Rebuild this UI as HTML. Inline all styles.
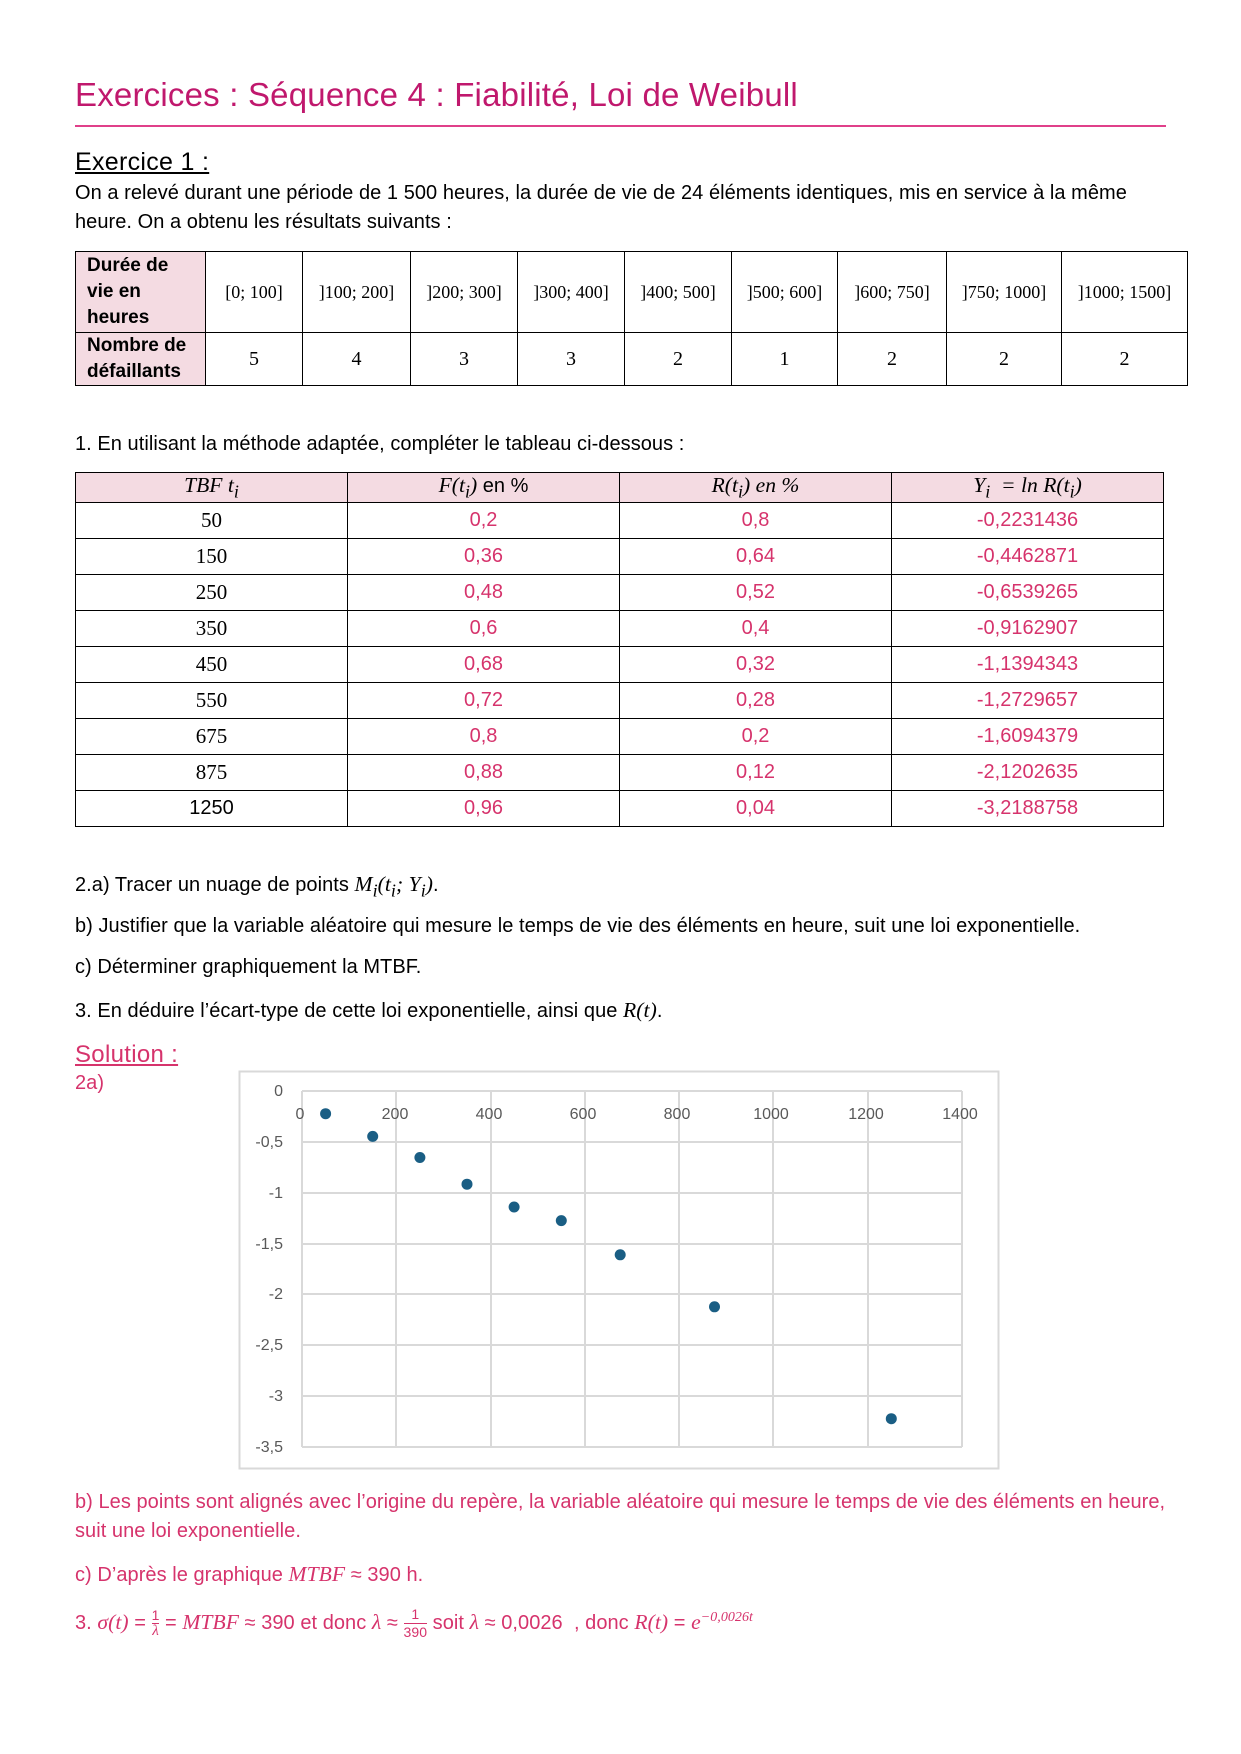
<!DOCTYPE html>
<html><head><meta charset="utf-8"><style>
body{margin:0;width:1241px;height:1754px;background:#fff;position:relative;font-family:"Liberation Sans",sans-serif;color:#000;overflow:hidden}
.a{position:absolute;white-space:nowrap}
.t{font-size:20px;letter-spacing:0.05px}
.p{color:#d6336c}
.m{font-family:"Liberation Serif",serif;font-style:italic;font-size:1.08em}
table{position:absolute;border-collapse:collapse;table-layout:fixed}
td{border:1.5px solid #000;text-align:center;padding:0}
</style></head><body>
<div class="a" style="left:75px;top:76px;font-size:33px;color:#c0186d;letter-spacing:0.2px">Exercices : Séquence 4 : Fiabilité, Loi de Weibull</div>
<div class="a" style="left:75px;top:125px;width:1091px;height:1.5px;background:#e0408a"></div>
<div class="a" style="left:75px;top:148px;font-size:25px;text-decoration:underline;letter-spacing:0.3px">Exercice 1 :</div>
<div class="a t" style="left:75px;top:182px">On a relevé durant une période de 1 500 heures, la durée de vie de 24 éléments identiques, mis en service à la même</div>
<div class="a t" style="left:75px;top:211px">heure. On a obtenu les résultats suivants :</div>

<table style="left:75px;top:251px;width:1113px;height:135px;font-family:'Liberation Serif',serif;font-size:18px">
<colgroup><col style="width:130px"><col style="width:97px"><col style="width:108px"><col style="width:107px"><col style="width:107px"><col style="width:107px"><col style="width:106px"><col style="width:109px"><col style="width:115px"><col></colgroup>
<tr style="height:81px"><td style="background:#f4dbe2;text-align:left;padding-left:11px;font-family:'Liberation Sans',sans-serif;font-weight:bold;font-size:19px;line-height:26px">Durée de<br>vie en<br>heures</td>
<td>[0; 100]</td><td>]100; 200]</td><td>]200; 300]</td><td>]300; 400]</td><td>]400; 500]</td><td>]500; 600]</td><td>]600; 750]</td><td>]750; 1000]</td><td>]1000; 1500]</td></tr>
<tr><td style="background:#f4dbe2;text-align:left;padding-left:11px;font-family:'Liberation Sans',sans-serif;font-weight:bold;font-size:19px;line-height:26px">Nombre de<br>défaillants</td>
<td style="font-size:20px">5</td><td style="font-size:20px">4</td><td style="font-size:20px">3</td><td style="font-size:20px">3</td><td style="font-size:20px">2</td><td style="font-size:20px">1</td><td style="font-size:20px">2</td><td style="font-size:20px">2</td><td style="font-size:20px">2</td></tr>
</table>

<div class="a t" style="left:75px;top:433px">1. En utilisant la méthode adaptée, compléter le tableau ci-dessous :</div>

<table style="left:75px;top:472px;width:1089px;font-size:20px">
<tr style="height:28px;background:#f4dbe2"><td style="width:271px" class="m">TBF t<sub>i</sub></td><td style="width:271px"><span class="m">F(t<sub>i</sub>)</span> en %</td><td style="width:271px" class="m">R(t<sub>i</sub>) en %</td><td class="m">Y<sub>i</sub> &nbsp;= ln R(t<sub>i</sub>)</td></tr>
<tr style="height:36px"><td style="font-family:'Liberation Serif',serif;font-size:21px">50</td><td class="p">0,2</td><td class="p">0,8</td><td class="p">-0,2231436</td></tr>
<tr style="height:36px"><td style="font-family:'Liberation Serif',serif;font-size:21px">150</td><td class="p">0,36</td><td class="p">0,64</td><td class="p">-0,4462871</td></tr>
<tr style="height:36px"><td style="font-family:'Liberation Serif',serif;font-size:21px">250</td><td class="p">0,48</td><td class="p">0,52</td><td class="p">-0,6539265</td></tr>
<tr style="height:36px"><td style="font-family:'Liberation Serif',serif;font-size:21px">350</td><td class="p">0,6</td><td class="p">0,4</td><td class="p">-0,9162907</td></tr>
<tr style="height:36px"><td style="font-family:'Liberation Serif',serif;font-size:21px">450</td><td class="p">0,68</td><td class="p">0,32</td><td class="p">-1,1394343</td></tr>
<tr style="height:36px"><td style="font-family:'Liberation Serif',serif;font-size:21px">550</td><td class="p">0,72</td><td class="p">0,28</td><td class="p">-1,2729657</td></tr>
<tr style="height:36px"><td style="font-family:'Liberation Serif',serif;font-size:21px">675</td><td class="p">0,8</td><td class="p">0,2</td><td class="p">-1,6094379</td></tr>
<tr style="height:36px"><td style="font-family:'Liberation Serif',serif;font-size:21px">875</td><td class="p">0,88</td><td class="p">0,12</td><td class="p">-2,1202635</td></tr>
<tr style="height:36px"><td>1250</td><td class="p">0,96</td><td class="p">0,04</td><td class="p">-3,2188758</td></tr>
</table>

<div class="a t" style="left:75px;top:872px">2.a) Tracer un nuage de points <span class="m">M<sub>i</sub>(t<sub>i</sub>; Y<sub>i</sub>)</span>.</div>
<div class="a t" style="left:75px;top:915px">b) Justifier que la variable aléatoire qui mesure le temps de vie des éléments en heure, suit une loi exponentielle.</div>
<div class="a t" style="left:75px;top:956px">c) Déterminer graphiquement la MTBF.</div>
<div class="a t" style="left:75px;top:998px">3. En déduire l’écart-type de cette loi exponentielle, ainsi que <span class="m">R(t)</span>.</div>

<div class="a p" style="left:75px;top:1041px;font-size:24px;text-decoration:underline;letter-spacing:0.3px">Solution :</div>
<div class="a t p" style="left:75px;top:1072px">2a)</div>

<svg class="a" style="left:0;top:0" width="1241" height="1754">
<rect x="239.5" y="1071.5" width="759" height="397" fill="none" stroke="#d9d9d9" stroke-width="2"/>
<g stroke="#d9d9d9" stroke-width="2">
<line x1="302" y1="1091" x2="962" y2="1091"/><line x1="302" y1="1142" x2="962" y2="1142"/><line x1="302" y1="1193" x2="962" y2="1193"/><line x1="302" y1="1244" x2="962" y2="1244"/><line x1="302" y1="1294" x2="962" y2="1294"/><line x1="302" y1="1345" x2="962" y2="1345"/><line x1="302" y1="1396" x2="962" y2="1396"/><line x1="302" y1="1447" x2="962" y2="1447"/>
<line x1="302" y1="1091" x2="302" y2="1447"/><line x1="396" y1="1091" x2="396" y2="1447"/><line x1="491" y1="1091" x2="491" y2="1447"/><line x1="585" y1="1091" x2="585" y2="1447"/><line x1="679" y1="1091" x2="679" y2="1447"/><line x1="773" y1="1091" x2="773" y2="1447"/><line x1="868" y1="1091" x2="868" y2="1447"/><line x1="962" y1="1091" x2="962" y2="1447"/>
</g>
<g font-family="Liberation Sans, sans-serif" font-size="16" fill="#595959" text-anchor="end">
<text x="283" y="1096">0</text><text x="283" y="1147">-0,5</text><text x="283" y="1198">-1</text><text x="283" y="1249">-1,5</text><text x="283" y="1299">-2</text><text x="283" y="1350">-2,5</text><text x="283" y="1401">-3</text><text x="283" y="1452">-3,5</text>
</g>
<g font-family="Liberation Sans, sans-serif" font-size="16" fill="#595959" text-anchor="middle">
<text x="300" y="1119">0</text><text x="395" y="1119">200</text><text x="489" y="1119">400</text><text x="583" y="1119">600</text><text x="677" y="1119">800</text><text x="771" y="1119">1000</text><text x="866" y="1119">1200</text><text x="960" y="1119">1400</text>
</g>
<g fill="#1a5e84">
<circle cx="325.6" cy="1113.7" r="5.5"/><circle cx="372.7" cy="1136.4" r="5.5"/><circle cx="419.9" cy="1157.5" r="5.5"/><circle cx="467" cy="1184.2" r="5.5"/><circle cx="514.1" cy="1207" r="5.5"/><circle cx="561.3" cy="1220.6" r="5.5"/><circle cx="620.2" cy="1254.8" r="5.5"/><circle cx="714.5" cy="1306.8" r="5.5"/><circle cx="891.3" cy="1418.7" r="5.5"/>
</g>
</svg>

<div class="a t p" style="left:75px;top:1491px">b) Les points sont alignés avec l’origine du repère, la variable aléatoire qui mesure le temps de vie des éléments en heure,</div>
<div class="a t p" style="left:75px;top:1520px">suit une loi exponentielle.</div>
<div class="a t p" style="left:75px;top:1562px">c) D’après le graphique <span class="m">MTBF</span> ≈ 390 h.</div>
<div class="a t p" style="left:75px;top:1606px">3. <span class="m">σ(t)</span> = <span style="display:inline-block;vertical-align:middle;text-align:center;font-size:14px;line-height:15px"><span style="display:block;border-bottom:1px solid #d6336c">1</span><span class="m" style="display:block">λ</span></span> = <span class="m">MTBF</span> ≈ 390 et donc <span class="m">λ</span> ≈ <span style="display:inline-block;vertical-align:middle;text-align:center;font-size:14px;line-height:17px"><span style="display:block;border-bottom:1px solid #d6336c">1</span><span style="display:block">390</span></span> soit <span class="m">λ</span> ≈ 0,0026 &nbsp;, donc <span class="m">R(t)</span> = <span class="m">e</span><sup class="m" style="font-size:14px">−0,0026t</sup></div>
</body></html>
